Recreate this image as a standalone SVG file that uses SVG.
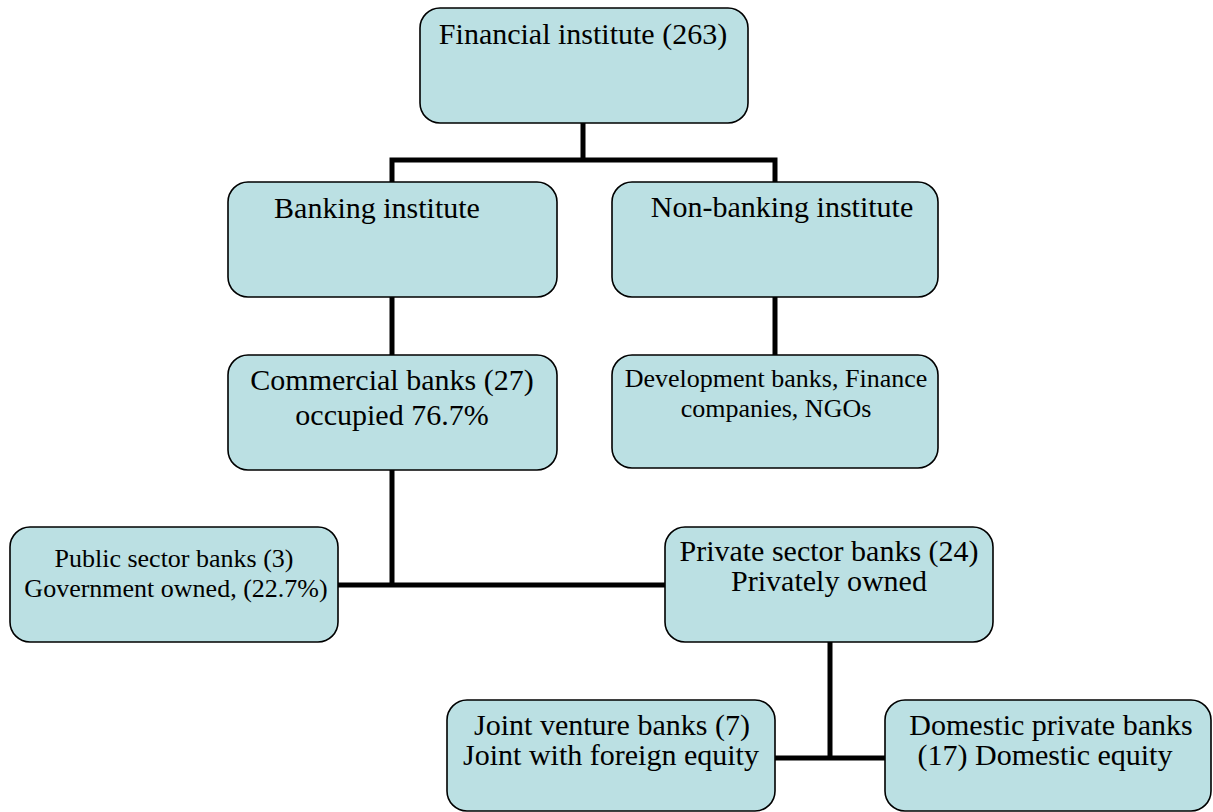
<svg xmlns="http://www.w3.org/2000/svg" width="1213" height="812" viewBox="0 0 1213 812">
<style>
.box{fill:#BBE0E3;stroke:#000;stroke-width:1.6}
.t{font-family:"Liberation Serif","Times New Roman",serif;fill:#000;text-anchor:middle}
.l{font-size:30px}
.s{font-size:26px}
.c{fill:none;stroke:#000;stroke-width:5;stroke-linecap:square}
</style>
<rect width="1213" height="812" fill="#fff"/>
<g id="connectors">
<path class="c" d="M583 124V160M392 160H775M392 160V182M775 160V182"/>
<path class="c" d="M392 297V355"/>
<path class="c" d="M775 297V355"/>
<path class="c" d="M392 470V585M338 585H665"/>
<path class="c" d="M830 642V758M775 758H885"/>
</g>
<g id="financial">
<rect class="box" x="420" y="8" width="328" height="115" rx="20"/>
<text class="t l" x="583" y="44">Financial institute (263)</text>
</g>
<g id="banking">
<rect class="box" x="228" y="182" width="329" height="115" rx="20"/>
<text class="t l" x="377" y="218">Banking institute</text>
</g>
<g id="nonbanking">
<rect class="box" x="612" y="182" width="326" height="115" rx="20"/>
<text class="t l" x="782" y="217">Non-banking institute</text>
</g>
<g id="commercial">
<rect class="box" x="228" y="355" width="329" height="115" rx="20"/>
<text class="t l" x="392" y="390">Commercial banks (27)</text>
<text class="t l" x="392" y="425">occupied 76.7%</text>
</g>
<g id="development">
<rect class="box" x="612" y="355" width="326" height="113" rx="20"/>
<text class="t s" x="776" y="387">Development banks, Finance</text>
<text class="t s" x="776" y="417">companies, NGOs</text>
</g>
<g id="public">
<rect class="box" x="10" y="527" width="328" height="115" rx="20"/>
<text class="t s" x="174" y="567">Public sector banks (3)</text>
<text class="t s" x="176" y="597">Government owned, (22.7%)</text>
</g>
<g id="private">
<rect class="box" x="665" y="527" width="328" height="115" rx="20"/>
<text class="t l" x="829" y="561">Private sector banks (24)</text>
<text class="t l" x="829" y="591">Privately owned</text>
</g>
<g id="joint">
<rect class="box" x="447" y="700" width="328" height="111" rx="20"/>
<text class="t l" x="612" y="735">Joint venture banks (7)</text>
<text class="t l" x="611" y="765">Joint with foreign equity</text>
</g>
<g id="domestic">
<rect class="box" x="885" y="700" width="326" height="111" rx="20"/>
<text class="t l" x="1051" y="735">Domestic private banks</text>
<text class="t l" x="1045" y="765">(17) Domestic equity</text>
</g>
</svg>
